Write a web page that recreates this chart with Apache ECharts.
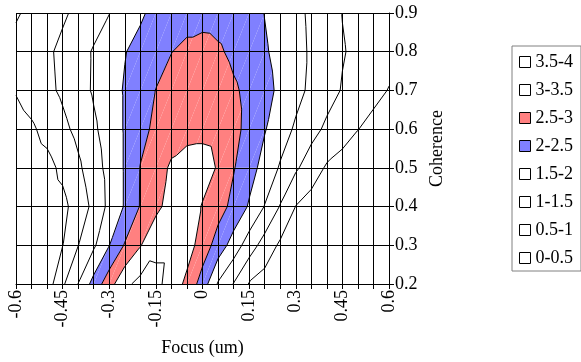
<!DOCTYPE html>
<html lang="en">
<head>
<meta charset="utf-8">
<script src="https://cdn.jsdelivr.net/npm/echarts@6/dist/echarts.min.js"></script>
<style>
  html, body { margin: 0; padding: 0; background: #fff; }
  #chart { width: 581px; height: 362px; }
</style>
</head>
<body>
<div id="chart"></div>
<script>
// grid of the contour surface: columns = focus, rows = coherence
var focus = [-0.6, -0.55, -0.5, -0.45, -0.4, -0.35, -0.3, -0.25, -0.2, -0.15, -0.1, -0.05,
             0, 0.05, 0.1, 0.15, 0.2, 0.25, 0.3, 0.35, 0.4, 0.45, 0.5, 0.55, 0.6];
var coherence = [0.2, 0.3, 0.4, 0.5, 0.6, 0.7, 0.8, 0.9];
var xLabelValues = [-0.6, -0.45, -0.3, -0.15, 0, 0.15, 0.3, 0.45, 0.6];

// surface values, one row per coherence
var z02 = [0.08, 0.15, 0.24, 0.92, 1.51, 2.18, 2.80, 3.38, 3.65, 3.62, 3.32, 2.87, 2.28, 1.45, 0.98, 0.47, 0.30, 0.20, 0.15, 0.10, 0.08, 0.06, 0.04, 0.03, 0.02];
var z03 = [0.10, 0.18, 0.30, 0.49, 0.99, 1.42, 1.99, 2.54, 2.97, 3.40, 3.40, 3.23, 2.77, 2.29, 1.78, 1.25, 0.79, 0.42, 0.30, 0.20, 0.15, 0.10, 0.07, 0.04, 0.02];
var z04 = [0.08, 0.15, 0.25, 0.37, 0.72, 1.12, 1.63, 2.04, 2.53, 2.87, 3.20, 3.25, 2.97, 2.69, 2.37, 1.95, 1.48, 0.97, 0.49, 0.30, 0.20, 0.15, 0.10, 0.06, 0.03];
var z05 = [0.15, 0.25, 0.35, 0.61, 0.91, 1.28, 1.66, 2.04, 2.52, 2.79, 3.07, 3.20, 3.20, 2.96, 2.53, 2.19, 1.83, 1.45, 1.07, 0.75, 0.44, 0.30, 0.20, 0.12, 0.05];
var z06 = [0.30, 0.43, 0.65, 0.88, 1.13, 1.42, 1.73, 2.04, 2.33, 2.62, 2.78, 2.85, 2.88, 2.84, 2.65, 2.34, 2.03, 1.73, 1.43, 1.16, 0.91, 0.71, 0.51, 0.35, 0.20];
var z07 = [0.53, 0.71, 0.89, 1.08, 1.32, 1.55, 1.80, 2.04, 2.27, 2.51, 2.70, 2.85, 2.90, 2.82, 2.58, 2.36, 2.14, 1.91, 1.65, 1.40, 1.18, 0.97, 0.81, 0.64, 0.48];
var z08 = [0.65, 0.78, 0.92, 1.11, 1.33, 1.54, 1.76, 1.98, 2.15, 2.32, 2.49, 2.62, 2.70, 2.58, 2.38, 2.22, 2.05, 1.86, 1.65, 1.44, 1.24, 1.03, 0.90, 0.78, 0.66];
var z09 = [0.45, 0.61, 0.77, 0.93, 1.11, 1.30, 1.49, 1.71, 1.93, 2.14, 2.25, 2.30, 2.30, 2.28, 2.20, 2.10, 1.99, 1.81, 1.62, 1.42, 1.21, 0.99, 0.87, 0.76, 0.64];
var rows = [z02, z03, z04, z05, z06, z07, z08, z09];

var levels = [0, 0.5, 1, 1.5, 2, 2.5, 3, 3.5, 4];
var bandNames = ['0-0.5', '0.5-1', '1-1.5', '1.5-2', '2-2.5', '2.5-3', '3-3.5', '3.5-4'];
var bandColors = ['#ffffff', '#ffffff', '#ffffff', '#ffffff', '#8080ff', '#ff8080', '#ffffff', '#ffffff'];

var cells = [];
for (var j = 0; j < coherence.length - 1; j++) {
    for (var i = 0; i < focus.length - 1; i++) {
        cells.push([focus[i], coherence[j], i, j]);
    }
}

// each grid cell is cut into two triangles along the "/" diagonal
function triangles(i, j) {
    var bl = [focus[i], coherence[j], rows[j][i]];
    var br = [focus[i + 1], coherence[j], rows[j][i + 1]];
    var tl = [focus[i], coherence[j + 1], rows[j + 1][i]];
    var tr = [focus[i + 1], coherence[j + 1], rows[j + 1][i + 1]];
    return [[bl, br, tr], [bl, tr, tl]];
}

function clip(poly, level, above) {
    var out = [];
    for (var k = 0; k < poly.length; k++) {
        var a = poly[k], b = poly[(k + 1) % poly.length];
        var ina = above ? a[2] >= level : a[2] <= level;
        var inb = above ? b[2] >= level : b[2] <= level;
        if (ina) out.push(a);
        if (ina !== inb) {
            var t = (level - a[2]) / (b[2] - a[2]);
            out.push([a[0] + t * (b[0] - a[0]), a[1] + t * (b[1] - a[1]), level]);
        }
    }
    return out;
}

function crossing(tri, level) {
    var pts = [];
    for (var k = 0; k < 3; k++) {
        var a = tri[k], b = tri[(k + 1) % 3];
        if ((a[2] < level) !== (b[2] < level)) {
            var t = (level - a[2]) / (b[2] - a[2]);
            pts.push([a[0] + t * (b[0] - a[0]), a[1] + t * (b[1] - a[1])]);
        }
    }
    return pts.length === 2 ? pts : null;
}

function bandSeries(b) {
    return {
        name: bandNames[b],
        type: 'custom',
        silent: true,
        itemStyle: { color: bandColors[b] },
        encode: { x: 0, y: 1 },
        data: cells,
        renderItem: function (params, api) {
            var tris = triangles(api.value(2), api.value(3));
            var children = [];
            tris.forEach(function (tri) {
                var poly = clip(clip(tri, levels[b], true), levels[b + 1], false);
                if (poly.length < 3) return;
                children.push({
                    type: 'polygon',
                    shape: { points: poly.map(function (p) { return api.coord([p[0], p[1]]); }) },
                    style: { fill: bandColors[b], stroke: null }
                });
            });
            return { type: 'group', children: children };
        }
    };
}

var series = [];
for (var b = 0; b < bandNames.length; b++) series.push(bandSeries(b));

series.push({
    name: 'lines',
    type: 'custom',
    silent: true,
    z: 6,
    encode: { x: 0, y: 1 },
    data: cells,
    renderItem: function (params, api) {
        var tris = triangles(api.value(2), api.value(3));
        var children = [];
        tris.forEach(function (tri) {
            for (var l = 1; l < levels.length - 1; l++) {
                var seg = crossing(tri, levels[l]);
                if (!seg) continue;
                children.push({
                    type: 'polyline',
                    shape: { points: seg.map(function (p) { return api.coord(p); }) },
                    style: { stroke: '#000', lineWidth: 1, fill: null }
                });
            }
        });
        return { type: 'group', children: children };
    }
});

var font = 'Liberation Serif';
var chart = echarts.init(document.getElementById('chart'));
chart.setOption({
    animation: false,
    backgroundColor: '#fff',
    textStyle: { fontFamily: font, color: '#000' },
    grid: { left: 16, top: 13, width: 373, height: 271, containLabel: false },
    legend: {
        orient: 'vertical',
        left: 512,
        top: 46,
        padding: [7, 8, 4, 7],
        borderColor: '#808080',
        borderWidth: 1,
        icon: 'rect',
        itemWidth: 11,
        itemHeight: 11,
        itemGap: 10,
        selectedMode: false,
        textStyle: { fontFamily: font, fontSize: 18, color: '#000', lineHeight: 18 },
        data: bandNames.slice().reverse().map(function (n) {
            return { name: n, itemStyle: { color: bandColors[bandNames.indexOf(n)], borderColor: '#000', borderWidth: 1 } };
        })
    },
    xAxis: {
        type: 'value',
        min: -0.6,
        max: 0.6,
        interval: 0.05,
        z: 5,
        name: 'Focus (um)',
        nameLocation: 'middle',
        nameGap: 55,
        nameTextStyle: { fontFamily: font, fontSize: 18, color: '#000' },
        axisLine: { show: true, onZero: false, lineStyle: { color: '#000', width: 1 } },
        axisTick: { show: true, inside: false, length: 5, lineStyle: { color: '#000' } },
        axisLabel: {
            rotate: 90,
            margin: 6,
            fontFamily: font,
            fontSize: 18,
            color: '#000',
            formatter: function (v) {
                for (var k = 0; k < xLabelValues.length; k++) {
                    if (Math.abs(xLabelValues[k] - v) < 1e-6) return String(xLabelValues[k]);
                }
                return '';
            }
        },
        splitLine: { show: true, lineStyle: { color: '#000', width: 1 } }
    },
    yAxis: {
        type: 'value',
        position: 'right',
        min: 0.2,
        max: 0.9,
        interval: 0.1,
        z: 5,
        name: 'Coherence',
        nameLocation: 'middle',
        nameRotate: 90,
        nameGap: 38,
        nameTextStyle: { fontFamily: font, fontSize: 18, color: '#000' },
        axisLine: { show: true, onZero: false, lineStyle: { color: '#000', width: 1 } },
        axisTick: { show: true, inside: false, length: 5, lineStyle: { color: '#000' } },
        axisLabel: { margin: 6, fontFamily: font, fontSize: 18, color: '#000' },
        splitLine: { show: true, lineStyle: { color: '#000', width: 1 } }
    },
    series: series
});
</script>
</body>
</html>
